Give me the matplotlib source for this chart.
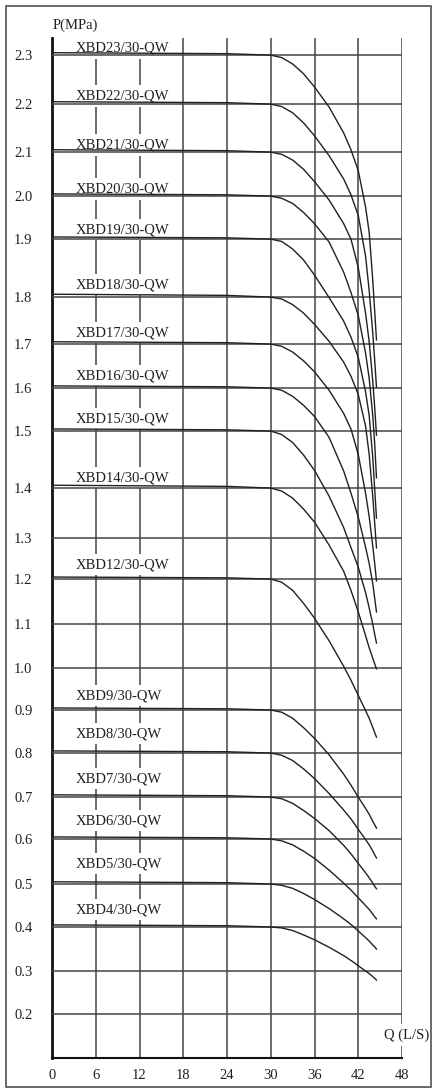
import numpy as np
import matplotlib
matplotlib.use("Agg")
import matplotlib.pyplot as plt
from matplotlib.patches import Rectangle

q = [0, 24, 28, 30, 31.5, 33, 34.5, 36, 38, 40, 41, 42, 43, 43.5, 44, 44.25, 44.5]

models = ["XBD23/30-QW", "XBD22/30-QW", "XBD21/30-QW", "XBD20/30-QW",
          "XBD19/30-QW", "XBD18/30-QW", "XBD17/30-QW", "XBD16/30-QW",
          "XBD15/30-QW", "XBD14/30-QW", "XBD12/30-QW", "XBD9/30-QW",
          "XBD8/30-QW", "XBD7/30-QW", "XBD6/30-QW", "XBD5/30-QW", "XBD4/30-QW"]

# pressure (MPa) for each model at the flow rates above
h23 = [2.305, 2.303, 2.301, 2.300, 2.295, 2.282, 2.262, 2.235, 2.194, 2.140, 2.105, 2.058, 1.975, 1.916, 1.827, 1.771, 1.709]
h22 = [2.205, 2.203, 2.201, 2.200, 2.195, 2.182, 2.161, 2.134, 2.092, 2.039, 2.003, 1.955, 1.871, 1.811, 1.722, 1.665, 1.602]
h21 = [2.105, 2.103, 2.101, 2.100, 2.095, 2.082, 2.061, 2.033, 1.991, 1.936, 1.900, 1.851, 1.766, 1.705, 1.614, 1.557, 1.493]
h20 = [2.005, 2.003, 2.001, 2.000, 1.995, 1.983, 1.962, 1.936, 1.895, 1.843, 1.808, 1.761, 1.680, 1.622, 1.534, 1.479, 1.418]
h19 = [1.905, 1.903, 1.901, 1.900, 1.896, 1.883, 1.864, 1.838, 1.799, 1.749, 1.715, 1.670, 1.592, 1.536, 1.452, 1.399, 1.340]
h18 = [1.805, 1.803, 1.801, 1.800, 1.796, 1.784, 1.766, 1.742, 1.706, 1.659, 1.627, 1.585, 1.512, 1.459, 1.381, 1.331, 1.276]
h17 = [1.705, 1.703, 1.701, 1.700, 1.695, 1.682, 1.662, 1.637, 1.595, 1.541, 1.505, 1.459, 1.390, 1.343, 1.279, 1.239, 1.196]
h16 = [1.605, 1.603, 1.601, 1.600, 1.595, 1.581, 1.560, 1.534, 1.489, 1.430, 1.390, 1.342, 1.278, 1.238, 1.189, 1.158, 1.127]
h15 = [1.505, 1.503, 1.501, 1.500, 1.494, 1.480, 1.458, 1.431, 1.384, 1.321, 1.277, 1.229, 1.170, 1.136, 1.099, 1.077, 1.057]
h14 = [1.405, 1.403, 1.401, 1.400, 1.394, 1.380, 1.358, 1.332, 1.283, 1.219, 1.175, 1.127, 1.074, 1.046, 1.022, 1.010, 0.998]
h12 = [1.205, 1.203, 1.201, 1.200, 1.193, 1.175, 1.146, 1.113, 1.062, 1.004, 0.971, 0.935, 0.899, 0.881, 0.859, 0.848, 0.837]
h9 = [0.905, 0.903, 0.901, 0.900, 0.895, 0.881, 0.859, 0.834, 0.796, 0.752, 0.727, 0.700, 0.673, 0.659, 0.642, 0.634, 0.626]
h8 = [0.805, 0.803, 0.801, 0.800, 0.795, 0.783, 0.764, 0.742, 0.708, 0.669, 0.648, 0.623, 0.599, 0.587, 0.573, 0.565, 0.558]
h7 = [0.705, 0.703, 0.701, 0.700, 0.696, 0.685, 0.668, 0.649, 0.620, 0.586, 0.567, 0.546, 0.525, 0.514, 0.502, 0.495, 0.489]
h6 = [0.605, 0.603, 0.601, 0.600, 0.596, 0.587, 0.573, 0.557, 0.531, 0.502, 0.486, 0.468, 0.450, 0.441, 0.430, 0.424, 0.419]
h5 = [0.505, 0.503, 0.501, 0.500, 0.497, 0.490, 0.478, 0.464, 0.443, 0.419, 0.406, 0.391, 0.376, 0.368, 0.359, 0.355, 0.350]
h4 = [0.405, 0.403, 0.401, 0.400, 0.398, 0.392, 0.382, 0.371, 0.354, 0.335, 0.324, 0.312, 0.300, 0.294, 0.287, 0.283, 0.279]
heads = [h23, h22, h21, h20, h19, h18, h17, h16, h15, h14, h12, h9, h8, h7, h6, h5, h4]

yticks = [0.2, 0.3, 0.4, 0.5, 0.6, 0.7, 0.8, 0.9, 1.0, 1.1, 1.2,
          1.3, 1.4, 1.5, 1.6, 1.7, 1.8, 1.9, 2.0, 2.1, 2.2, 2.3]
xticks = [0, 6, 12, 18, 24, 30, 36, 42, 48]

# --- layout ---
# the scanned chart's rows are not evenly spaced, so map pressure -> pixel row
row_vals = [0.1] + yticks + [2.4]
row_px = [1058, 1014, 971, 927, 884, 839, 797, 753, 710, 668, 624, 579,
          538, 488, 431, 388, 344, 297, 239, 196, 152, 104, 55, 6]
# gap (px) between each label's baseline and its curve
label_gap = [4, 5, 4, 4, 6, 9, 8, 9, 9, 7, 11, 11, 16, 15, 15, 17, 14]

neg_px = -np.array(row_px, dtype=float)


def fwd(v):
    return np.interp(v, row_vals, neg_px)


def inv(p):
    return np.interp(p, neg_px[::-1], row_vals[::-1])


W, H = 435, 1090
fig = plt.figure(figsize=(W / 100, H / 100), dpi=100)
ax = fig.add_axes([52 / W, 32 / H, 350 / W, 1020 / H])
ax.set_yscale("function", functions=(fwd, inv))
ax.set_xlim(0, 48)
ax.set_ylim(0.1, 2.335)

font = "Liberation Serif"
line_col = "#231f20"
grid_col = "#4a4343"
i30 = q.index(30)

ax.vlines(xticks[1:], 0.1, 2.335, colors=grid_col, lw=1.1, zorder=1)
ax.hlines(yticks, 0, 48, colors=grid_col, lw=1.1, zorder=2.6)

for name, h, gap in zip(models, heads, label_gap):
    ax.plot(q, h, color=line_col, lw=1.0, zorder=3, solid_joinstyle="round")
    ax.annotate(name, xy=(3.3, h[i30]), xytext=(0, gap * 0.72),
                textcoords="offset points", ha="left", va="baseline",
                fontsize=10.5, family=font, color="#231f20", zorder=2.5,
                bbox=dict(boxstyle="square,pad=0.3", fc="white", ec="none"))

ax.set_xticks(xticks)
ax.set_xticklabels([str(x) for x in xticks], family=font, fontsize=10.5, color="#231f20")
ax.set_yticks(yticks)
ax.set_yticklabels(["%.1f" % y for y in yticks], family=font, fontsize=10.5, color="#231f20")
ax.yaxis.set_minor_locator(matplotlib.ticker.NullLocator())
ax.tick_params(axis="x", length=0, pad=8)
ax.tick_params(axis="y", length=0, pad=14)

for s in ["top", "right"]:
    ax.spines[s].set_visible(False)
ax.spines["left"].set_linewidth(2)
ax.spines["left"].set_color("#111111")
ax.spines["bottom"].set_linewidth(1.5)
ax.spines["bottom"].set_color("#111111")

ax.text(48.6, 0.152, "Q (L/S)", ha="center", va="center", fontsize=10.5,
        family=font, color="#231f20", clip_on=False, zorder=4,
        bbox=dict(boxstyle="square,pad=0.3", fc="white", ec="none"))
fig.text(53 / W, 1 - 25 / H, "P(MPa)", ha="left", va="center",
         fontsize=10.5, family=font, color="#231f20")

# outer frame of the original sheet
fig.patches.append(Rectangle((6 / W, 3 / H), 425 / W, 1081 / H,
                             transform=fig.transFigure, fill=False,
                             ec="#555050", lw=1.2))

fig.savefig("out.png", dpi=100)
